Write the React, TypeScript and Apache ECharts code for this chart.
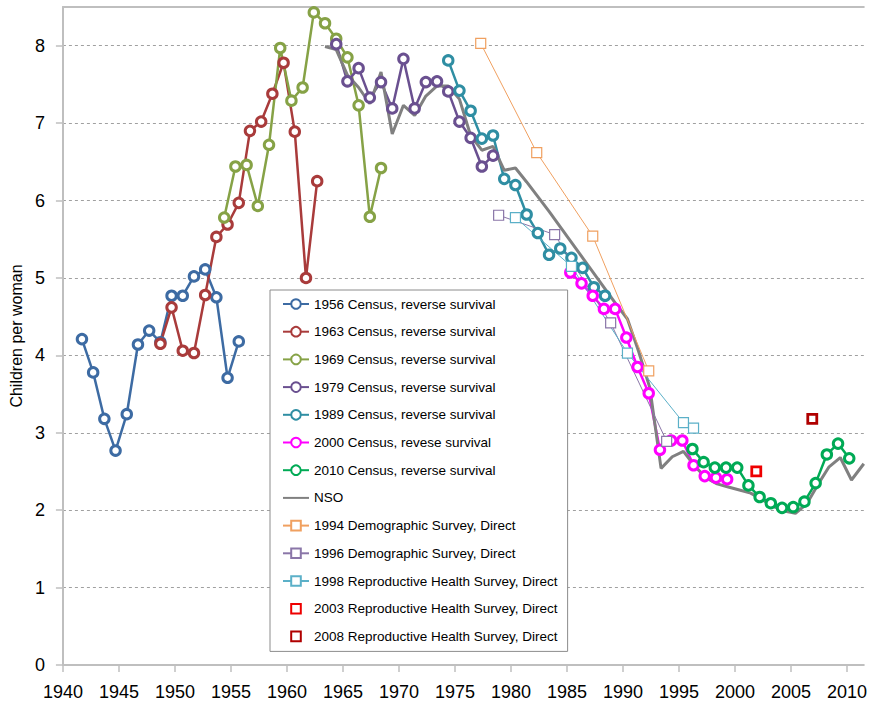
import React, { useEffect, useRef } from "react";
import * as echarts from "echarts";

const FONT = "'Liberation Sans', Arial, sans-serif";

// 1956 Census, reverse survival
const c1956Years = [1941.7, 1942.7, 1943.7, 1944.7, 1945.7, 1946.7, 1947.7, 1948.7, 1949.7, 1950.7, 1951.7, 1952.7, 1953.7, 1954.7, 1955.7];
const c1956Values = [4.21, 3.78, 3.18, 2.77, 3.24, 4.14, 4.32, 4.17, 4.77, 4.77, 5.02, 5.11, 4.75, 3.71, 4.18];

// 1963 Census, reverse survival
const c1963Years = [1948.7, 1949.7, 1950.7, 1951.7, 1952.7, 1953.7, 1954.7, 1955.7, 1956.7, 1957.7, 1958.7, 1959.7, 1960.7, 1961.7, 1962.7];
const c1963Values = [4.15, 4.62, 4.06, 4.03, 4.78, 5.53, 5.69, 5.97, 6.9, 7.02, 7.38, 7.78, 6.89, 5.0, 6.25];

// 1969 Census, reverse survival
const c1969Years = [1954.4, 1955.4, 1956.4, 1957.4, 1958.4, 1959.4, 1960.4, 1961.4, 1962.4, 1963.4, 1964.4, 1965.4, 1966.4, 1967.4, 1968.4];
const c1969Values = [5.78, 6.44, 6.46, 5.93, 6.72, 7.97, 7.29, 7.46, 8.43, 8.29, 8.09, 7.85, 7.23, 5.79, 6.42];

// 1979 Census, reverse survival
const c1979Years = [1964.4, 1965.4, 1966.4, 1967.4, 1968.4, 1969.4, 1970.4, 1971.4, 1972.4, 1973.4, 1974.4, 1975.4, 1976.4, 1977.4, 1978.4];
const c1979Values = [8.02, 7.54, 7.71, 7.33, 7.53, 7.19, 7.83, 7.19, 7.53, 7.54, 7.41, 7.02, 6.81, 6.44, 6.58];

// 1989 Census, reverse survival
const c1989Years = [1974.4, 1975.4, 1976.4, 1977.4, 1978.4, 1979.4, 1980.4, 1981.4, 1982.4, 1983.4, 1984.4, 1985.4, 1986.4, 1987.4, 1988.4];
const c1989Values = [7.81, 7.42, 7.16, 6.8, 6.84, 6.28, 6.2, 5.82, 5.58, 5.3, 5.38, 5.26, 5.13, 4.88, 4.77];

// 2000 Census, revese survival
const c2000Years = [1985.3, 1986.3, 1987.3, 1988.3, 1989.3, 1990.3, 1991.3, 1992.3, 1993.3, 1994.3, 1995.3, 1996.3, 1997.3, 1998.3, 1999.3];
const c2000Values = [5.07, 4.93, 4.77, 4.6, 4.6, 4.23, 3.85, 3.51, 2.78, 2.9, 2.9, 2.58, 2.44, 2.42, 2.4];

// 2010 Census, reverse survival
const c2010Years = [1996.2, 1997.2, 1998.2, 1999.2, 2000.2, 2001.2, 2002.2, 2003.2, 2004.2, 2005.2, 2006.2, 2007.2, 2008.2, 2009.2, 2010.2];
const c2010Values = [2.79, 2.62, 2.55, 2.55, 2.55, 2.32, 2.17, 2.09, 2.03, 2.04, 2.11, 2.35, 2.72, 2.86, 2.67];

// NSO
const nsoYears = [
  1963.4, 1964.4, 1965.4, 1966.4, 1967.4, 1968.4, 1969.4, 1970.4, 1971.4, 1972.4,
  1973.4, 1974.4, 1975.4, 1976.4, 1977.4, 1978.4, 1979.4, 1980.4, 1981.4, 1982.4,
  1983.4, 1984.4, 1985.4, 1986.4, 1987.4, 1988.4, 1989.4, 1990.4, 1991.4, 1992.4,
  1993.4, 1994.4, 1995.4, 1996.4, 1997.4, 1998.4, 1999.4, 2000.4, 2001.4, 2002.4,
  2003.4, 2004.4, 2005.4, 2006.4, 2007.4, 2008.4, 2009.4, 2010.4, 2011.5,
];
const nsoValues = [
  7.99, 7.95, 7.62, 7.46, 7.25, 7.66, 6.86, 7.23, 7.1, 7.35,
  7.48, 7.48, 7.31, 6.84, 6.65, 6.7, 6.39, 6.42, 6.24, 6.05,
  5.86, 5.66, 5.46, 5.26, 5.06, 4.86, 4.66, 4.47, 4.05, 3.58,
  2.54, 2.69, 2.76, 2.57, 2.42, 2.34, 2.3, 2.26, 2.22, 2.14,
  2.05, 1.99, 1.96, 2.08, 2.33, 2.56, 2.68, 2.39, 2.6,
];

// Direct estimates
const ds1994Years = [1977.3, 1982.3, 1987.3, 1992.3];
const ds1994Values = [8.03, 6.62, 5.54, 3.8];
const ds1996Years = [1978.9, 1983.9, 1988.9, 1993.9];
const ds1996Values = [5.81, 5.56, 4.42, 2.89];
const rhs1998Years = [1980.4, 1985.4, 1990.4, 1995.4, 1996.3];
const rhs1998Values = [5.78, 5.15, 4.03, 3.13, 3.06];
const rhs2003Years = [2001.9];
const rhs2003Values = [2.5];
const rhs2008Years = [2006.9];
const rhs2008Values = [3.18];

const legendNames = [
  "1956 Census, reverse survival",
  "1963 Census, reverse survival",
  "1969 Census, reverse survival",
  "1979 Census, reverse survival",
  "1989 Census, reverse survival",
  "2000 Census, revese survival",
  "2010 Census, reverse survival",
  "NSO",
  "1994 Demographic Survey, Direct",
  "1996 Demographic Survey, Direct",
  "1998 Reproductive Health Survey, Direct",
  "2003 Reproductive Health Survey, Direct",
  "2008 Reproductive Health Survey, Direct",
];

const pairs = (xs: number[], ys: number[]) => xs.map((x, i) => [x, ys[i]]);

const censusSeries = (name: string, color: string, xs: number[], ys: number[]) => ({
  name,
  type: "line",
  data: pairs(xs, ys),
  symbol: "circle",
  symbolSize: 9.5,
  showSymbol: true,
  clip: false,
  lineStyle: { color, width: 2.5 },
  itemStyle: { color: "#ffffff", borderColor: color, borderWidth: 3 },
});

const surveySeries = (name: string, color: string, xs: number[], ys: number[]) => ({
  name,
  type: "line",
  data: pairs(xs, ys),
  symbol: "rect",
  symbolSize: 10,
  lineStyle: { color, width: 1 },
  itemStyle: { color: "#ffffff", borderColor: color, borderWidth: 1.2 },
});

const pointSeries = (name: string, color: string, xs: number[], ys: number[]) => ({
  name,
  type: "line",
  data: pairs(xs, ys),
  symbol: "rect",
  symbolSize: 9,
  lineStyle: { color, width: 0, opacity: 0 },
  itemStyle: { color: "#ffffff", borderColor: color, borderWidth: 2.8 },
});

export default function App() {
  const ref = useRef<HTMLDivElement>(null);

  useEffect(() => {
    document.body.style.margin = "0";
    if (!ref.current) return;
    const chart = echarts.init(ref.current, undefined, { renderer: "svg" });

    const axisColor = "#bfbfbf";

    const legendData = legendNames.map((name) => {
      if (name === "NSO") return { name, itemStyle: { opacity: 0 } };
      if (name.startsWith("2003") || name.startsWith("2008"))
        return { name, lineStyle: { opacity: 0, width: 0 } };
      return { name };
    });

    chart.setOption({
      animation: false,
      backgroundColor: "#ffffff",
      grid: { left: 62, right: 0, top: 7, bottom: 41, containLabel: false },
      xAxis: [
        {
          type: "value",
          min: 1940,
          max: 2011.5,
          interval: 5,
          axisLine: { show: true, lineStyle: { color: axisColor, width: 2 } },
          axisTick: { show: true, length: 7, lineStyle: { color: axisColor, width: 1.5 } },
          axisLabel: {
            fontSize: 18,
            fontFamily: FONT,
            color: "#000",
            margin: 18,
            showMaxLabel: false,
            formatter: (v: number) => String(Math.round(v)),
          },
          splitLine: { show: false },
        },
        {
          type: "value",
          position: "top",
          min: 1940,
          max: 2011.5,
          axisLine: { show: true, lineStyle: { color: axisColor, width: 2 } },
          axisTick: { show: false },
          axisLabel: { show: false },
          splitLine: { show: false },
        },
      ],
      yAxis: {
        type: "value",
        min: 0,
        max: 8.5,
        interval: 1,
        name: "Children per woman",
        nameLocation: "middle",
        nameGap: 36,
        nameTextStyle: { fontSize: 16, fontFamily: FONT, color: "#000" },
        axisLine: { show: true, lineStyle: { color: axisColor, width: 2 } },
        axisTick: { show: true, length: 7, lineStyle: { color: axisColor, width: 1.5 } },
        axisLabel: {
          fontSize: 18,
          fontFamily: FONT,
          color: "#000",
          margin: 18,
          showMaxLabel: false,
        },
        splitLine: {
          show: true,
          lineStyle: { color: "#a0a0a0", width: 1, type: [3, 3] },
        },
      },
      legend: {
        orient: "vertical",
        left: 270,
        top: 290,
        padding: [5, 10, 6, 12],
        itemGap: 9.7,
        itemWidth: 26,
        itemHeight: 12,
        borderColor: "#8c8c8c",
        borderWidth: 1,
        backgroundColor: "#ffffff",
        textStyle: { fontSize: 13.5, fontFamily: FONT, color: "#000", lineHeight: 18 },
        data: legendData,
      },
      series: [
        censusSeries(legendNames[0], "#3D6BA3", c1956Years, c1956Values),
        censusSeries(legendNames[1], "#A93B3B", c1963Years, c1963Values),
        censusSeries(legendNames[2], "#86A246", c1969Years, c1969Values),
        censusSeries(legendNames[3], "#6A5090", c1979Years, c1979Values),
        censusSeries(legendNames[4], "#2F8EA3", c1989Years, c1989Values),
        censusSeries(legendNames[5], "#FF00FF", c2000Years, c2000Values),
        censusSeries(legendNames[6], "#00AA55", c2010Years, c2010Values),
        {
          name: legendNames[7],
          type: "line",
          data: pairs(nsoYears, nsoValues),
          symbol: "none",
          showSymbol: false,
          lineStyle: { color: "#808080", width: 3 },
          itemStyle: { color: "#808080" },
        },
        surveySeries(legendNames[8], "#F0A060", ds1994Years, ds1994Values),
        surveySeries(legendNames[9], "#8A76A8", ds1996Years, ds1996Values),
        surveySeries(legendNames[10], "#5BB0C8", rhs1998Years, rhs1998Values),
        pointSeries(legendNames[11], "#EE0000", rhs2003Years, rhs2003Values),
        pointSeries(legendNames[12], "#B00000", rhs2008Years, rhs2008Values),
      ],
    });

    return () => chart.dispose();
  }, []);

  return <div ref={ref} style={{ width: 870, height: 706 }} />;
}
